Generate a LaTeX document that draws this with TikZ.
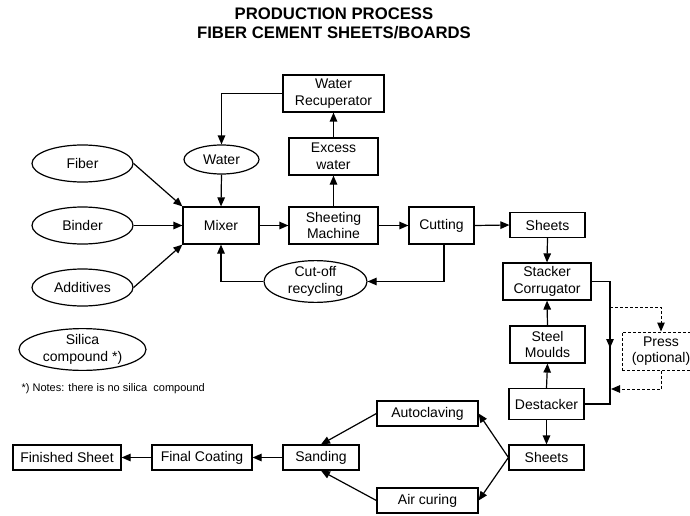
\documentclass[tikz,border=0pt]{standalone}
\usepackage{fontspec}
\setmainfont{Liberation Sans}
\usetikzlibrary{shapes.geometric,arrows.meta}

\begin{document}
\begin{tikzpicture}[x=1pt,y=-1pt,line width=1.2pt,
	every node/.style={font=\fontsize{14}{16.5}\selectfont,align=center,inner sep=0pt},
	box/.style={draw,rectangle,minimum width=#1,minimum height=37pt},
	flat/.style={draw,rectangle,minimum width=#1,minimum height=25pt},
	oval/.style={draw,ellipse,minimum width=#1,minimum height=37pt},
	arr/.style={-{Triangle[length=9pt,width=7.5pt]}},
	dashline/.style={line width=1pt,dash pattern=on 3pt off 2pt}]
	\useasboundingbox (0,0) rectangle (690,516);
	\node[font=\fontsize{16.7}{19}\selectfont\bfseries] (title1) at (334,14) {PRODUCTION PROCESS};
	\node[font=\fontsize{16.7}{19}\selectfont\bfseries] (title2) at (334,33) {FIBER CEMENT SHEETS/BOARDS};
	\node[box=101pt] (recup) at (333.5,93.5) {Water\\Recuperator};
	\node[box=89pt] (excess) at (333.5,156.5) {Excess\\water};
	\node[oval=75pt,minimum height=29pt] (water) at (221.5,159.5) {Water};
	\node[oval=101pt] (fiber) at (82.5,163.5) {Fiber};
	\node[oval=101pt] (binder) at (82.5,225.5) {Binder};
	\node[oval=101pt] (additives) at (82.5,287.5) {Additives};
	\node[oval=127pt,minimum height=39pt] (silica) at (82.5,349.5) {Silica\\compound *)};
	\node[anchor=west,font=\fontsize{11}{13}\selectfont] (note) at (21,389) {*) Notes: there is no silica\ \ compound};
	\node[box=76pt] (mixer) at (221,225.5) {Mixer};
	\node[box=89pt] (sheeting) at (333.5,225.5) {Sheeting\\Machine};
	\node[box=65pt] (cutting) at (441.5,225.5) {Cutting};
	\node[oval=103pt] (cutoff) at (315.5,281.5) {Cut-off\\recycling};
	\node[flat=75pt] (sheets1) at (547.5,225) {Sheets};
	\node[box=88pt] (stacker) at (547,281.5) {Stacker\\Corrugator};
	\node[box=75pt] (moulds) at (547.5,344.5) {Steel\\Moulds};
	\node[box=78pt,minimum height=38pt,dashline] (press) at (661,351) {Press\\(optional)};
	\node[box=75pt,minimum height=31pt] (destacker) at (546.5,404) {Destacker};
	\node[flat=75pt] (sheets2) at (546.5,457.5) {Sheets};
	\node[flat=101pt] (autoclave) at (427.5,413.5) {Autoclaving};
	\node[flat=101pt] (aircure) at (427.5,500.5) {Air curing};
	\node[flat=76pt] (sanding) at (321,457.5) {Sanding};
	\node[flat=100pt] (coating) at (202,457.5) {Final Coating};
	\node[flat=108pt] (finished) at (67,457.5) {Finished Sheet};
	\coordinate (railtop) at (610,281.5);
	\coordinate (railmid) at (610,348);
	\coordinate (railbot) at (610,404);
	\coordinate (branch) at (610,307);
	\coordinate (join) at (611,389);
	\draw[arr] (fiber.east) -- (mixer.north west);
	\draw[arr] (binder.east) -- (mixer.west);
	\draw[arr] (additives.east) -- (mixer.south west);
	\draw[arr] (water.south) -- (mixer.north);
	\draw[arr] (recup.west) -| (water.north);
	\draw[arr] (mixer.east) -- (sheeting.west);
	\draw[arr] (sheeting.east) -- (cutting.west);
	\draw[arr] (cutting.east) -- (sheets1.west);
	\draw[arr] (sheeting.north) -- (excess.south);
	\draw[arr] (excess.north) -- (recup.south);
	\draw[arr] ([xshift=2.5pt]cutting.south) |- (cutoff.east);
	\draw[arr] (cutoff.west) -| (mixer.south);
	\draw[arr] (sheets1.south) -- (stacker.north);
	\draw[arr] (moulds.north) -- (stacker.south);
	\draw[arr] (destacker.north) -- (moulds.south);
	\draw[arr] (destacker.south) -- (sheets2.north);
	\draw (stacker.east) -- (railtop) -- (railbot) -- (destacker.east);
	\draw[arr] (railtop) -- (railmid);
	\draw[arr,dashline] (branch) -| (press.north);
	\draw[arr,dashline] (press.south) |- (join);
	\draw[arr] (sheets2.west) -- (autoclave.east);
	\draw[arr] (sheets2.west) -- (aircure.east);
	\draw[arr] (autoclave.west) -- (sanding.north);
	\draw[arr] (aircure.west) -- (sanding.south);
	\draw[arr] (sanding.west) -- (coating.east);
	\draw[arr] (coating.west) -- (finished.east);
\end{tikzpicture}
\end{document}
